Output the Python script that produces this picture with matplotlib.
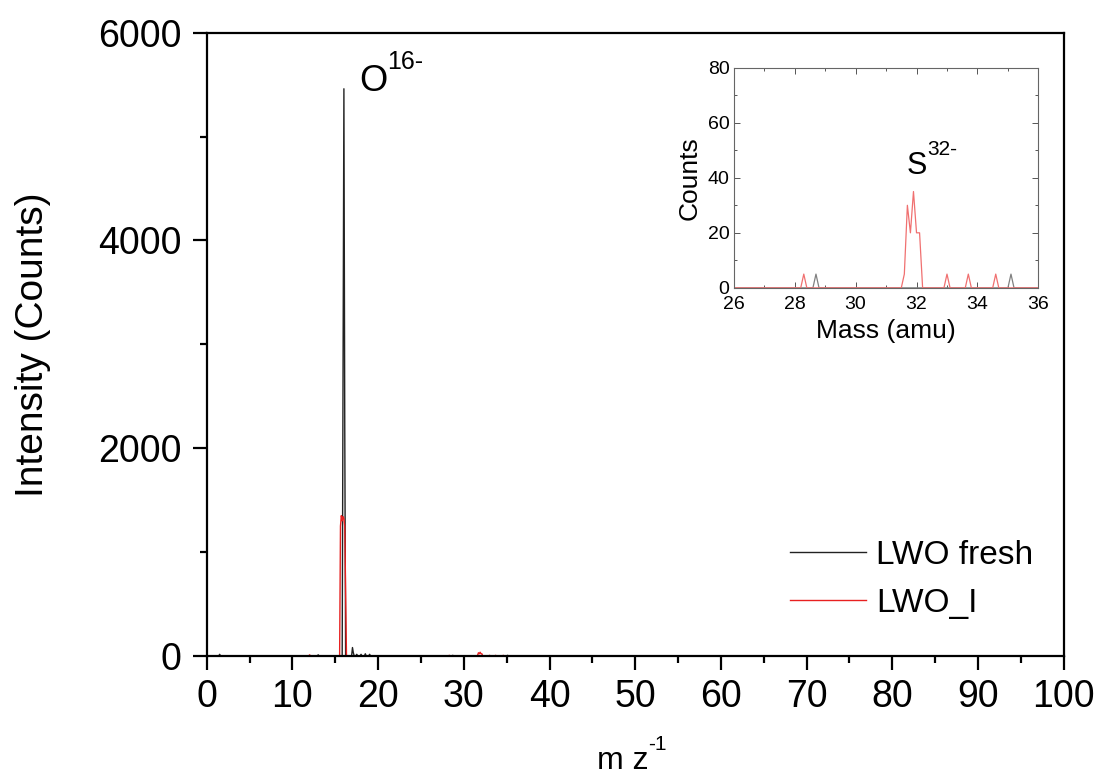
import numpy as np
import matplotlib
matplotlib.use('Agg')
import matplotlib.pyplot as plt
from matplotlib.ticker import MultipleLocator

plt.rcParams['font.family'] = ['Liberation Sans', 'DejaVu Sans']

# mass axis of the spectra, 0.1 amu steps
mass = np.round(np.arange(0, 100.05, 0.1), 1)

# non-zero channels of each spectrum (mass in amu, counts)
fresh_mass = [1.5, 13.0, 15.8, 15.9, 16.0, 16.1, 16.2, 17.0, 17.1, 17.5, 18.0, 18.5, 19.0, 28.7, 35.1]
fresh_counts = [15, 10, 0, 2600, 5460, 2200, 0, 80, 30, 15, 15, 20, 15, 5, 5]

li_mass = [12.0, 15.6, 15.7, 15.8, 15.9, 16.0, 16.1, 16.2, 16.3,
           28.3, 31.6, 31.7, 31.8, 31.9, 32.0, 32.1, 33.0, 33.7, 34.6]
li_counts = [10, 1250, 1350, 1300, 1340, 1320, 1250, 600, 0,
             5, 5, 30, 20, 35, 20, 20, 5, 5, 5]

series_names = ['LWO fresh', 'LWO_I']


def build_spectrum(peak_mass, peak_counts):
    y = np.zeros(len(mass))
    for m, c in zip(peak_mass, peak_counts):
        y[np.argmin(np.abs(mass - m))] = c
    return y


fresh = build_spectrum(fresh_mass, fresh_counts)
li = build_spectrum(li_mass, li_counts)


def add_sup(ax, t, sup, sup_size):
    # superscript placed right after the top of text t
    ax.annotate(sup, xy=(1.0, 0.72), xycoords=t, fontsize=sup_size,
                ha='left', va='bottom')


fig = plt.figure(figsize=(11, 7.78), dpi=100)
ax = fig.add_axes([0.188, 0.157, 0.779, 0.801])

ax.plot(mass, fresh, color='#222222', lw=1.0, label=series_names[0])
ax.plot(mass, li, color='#e82020', lw=1.0, label=series_names[1])

ax.set_xlim(0, 100)
ax.set_ylim(0, 6000)
ax.xaxis.set_major_locator(MultipleLocator(10))
ax.xaxis.set_minor_locator(MultipleLocator(5))
ax.yaxis.set_major_locator(MultipleLocator(2000))
ax.yaxis.set_minor_locator(MultipleLocator(1000))
ax.tick_params(which='both', direction='out', width=1.6, labelsize=27,
               top=False, right=False)
ax.tick_params(which='major', length=10)
ax.tick_params(axis='x', which='major', pad=7)
ax.tick_params(axis='y', which='major', pad=8)
ax.tick_params(which='minor', length=5)
for s in ax.spines.values():
    s.set_linewidth(1.6)

ax.set_ylabel('Intensity (Counts)', fontsize=28, labelpad=34)
mz = fig.text(0.566, 0.012, 'm z', fontsize=23, ha='center', va='baseline')
add_sup(ax, mz, '-1', 15)

o_lbl = ax.text(17.8, 5440, 'O', fontsize=26, ha='left', va='baseline')
add_sup(ax, o_lbl, '16-', 18)

ax.legend(loc='upper left', bbox_to_anchor=(0.718, 0.306), bbox_transform=fig.transFigure,
          frameon=False, fontsize=24, handlelength=2.3, handletextpad=0.3,
          labelspacing=0.5, borderpad=0, borderaxespad=0)

# inset around the sulphur peak
ins = fig.add_axes([0.667, 0.630, 0.277, 0.283])
ins.plot(mass, fresh, color='#808080', lw=0.9)
ins.plot(mass, li, color='#f07070', lw=0.9)
ins.set_xlim(26, 36)
ins.set_ylim(0, 80)
ins.xaxis.set_major_locator(MultipleLocator(2))
ins.xaxis.set_minor_locator(MultipleLocator(1))
ins.yaxis.set_major_locator(MultipleLocator(20))
ins.yaxis.set_minor_locator(MultipleLocator(10))
ins.tick_params(which='both', direction='in', top=True, right=True,
                labelsize=14, width=0.7, color='#555555')
ins.tick_params(axis='x', pad=6)
ins.tick_params(axis='y', pad=3)
ins.tick_params(which='major', length=4)
ins.tick_params(which='minor', length=2.5)
for s in ins.spines.values():
    s.set_linewidth(0.8)
    s.set_color('#666666')
ins.set_xlabel('Mass (amu)', fontsize=19, labelpad=4)
ins.set_ylabel('Counts', fontsize=19, labelpad=4)
s_lbl = ins.text(31.68, 41.5, 'S', fontsize=22, ha='left', va='baseline')
add_sup(ins, s_lbl, '32-', 15)

fig.savefig('out.png', dpi=100)
